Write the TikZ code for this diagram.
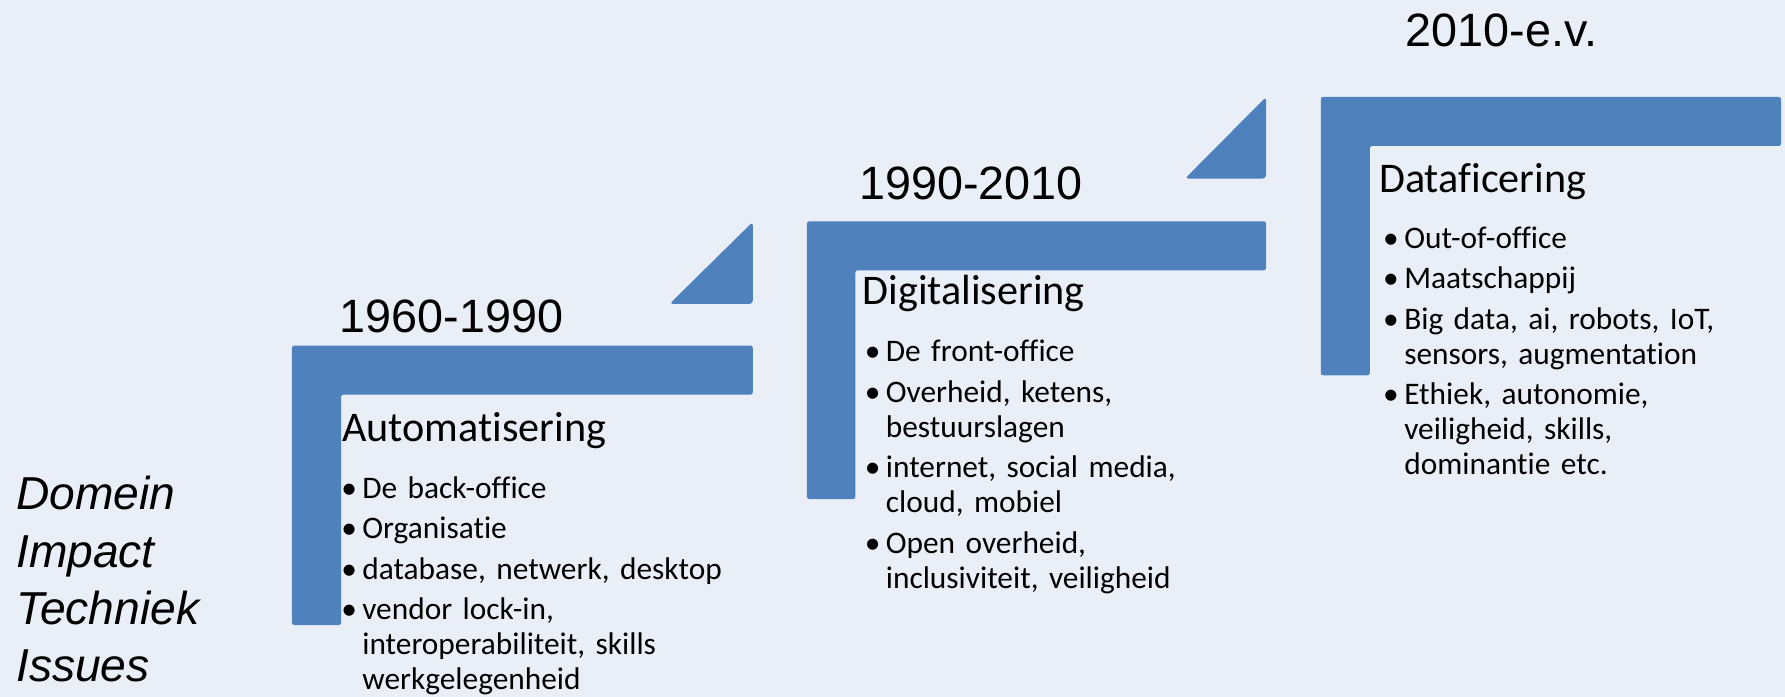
\documentclass[tikz,border=0pt]{standalone}
\usepackage{fontspec}
\setmainfont{Carlito}[Ligatures=NoCommon]
\newfontfamily\arialfont{Liberation Sans}
\definecolor{barblue}{HTML}{4F81BD}
\definecolor{slidebg}{HTML}{EAEFF7}
\newcommand{\bul}{\makebox[18.5pt][l]{\textbullet}}
\newcommand{\hang}{\hspace*{18.5pt}}

\begin{document}
\begin{tikzpicture}[x=1pt, y=-1pt,
        bar/.style={
            fill=barblue,
            rounded corners=2pt},
        wedge/.style={
            fill=barblue,
            rounded corners=3pt},
        year/.style={
            anchor=base west,
            inner sep=0pt,
            font=\arialfont\fontsize{41}{49}\selectfont},
        head/.style={
            anchor=base west,
            inner sep=0pt,
            font=\fontsize{37}{44}\selectfont},
        list/.style={
            anchor=base west,
            inner sep=0pt,
            text width=360pt,
            align=left,
            font=\fontsize{27.5}{30.7}\selectfont}
        ]

        \useasboundingbox (0,0) rectangle (1565,611);
        \fill[slidebg] (0,0) rectangle (1565,611);

        % steps
        \fill[bar] (256,303) -- (660,303) -- (660,346) -- (299,346) -- (299,548) -- (256,548) -- cycle;
        \fill[wedge] (587,266.5) -- (660,266.5) -- (660,194.5) -- cycle;
        \fill[bar] (707.5,194) -- (1110,194) -- (1110,237) -- (750,237) -- (750,437.5) -- (707.5,437.5) -- cycle;
        \fill[wedge] (1039,156.5) -- (1110,156.5) -- (1110,85) -- cycle;
        \fill[bar] (1158,85) -- (1561.5,85) -- (1561.5,128) -- (1201,128) -- (1201,329) -- (1158,329) -- cycle;

        % periods
        \node (year1) [year] at (297.5,291.7) {1960-1990};
        \node (year2) [year] at (753,174.8) {1990-2010};
        \node (year3) [year] at (1232.4,40.9) {2010-e.v.};

        \node (head1) [head] at (300,387.5) {Automatisering};
        \node (head2) [head] at (756,267.4) {Digitalisering};
        \node (head3) [head] at (1209,168.9) {Dataficering};

        \node (list1) [list] at (299,436.9) {\bul De back-office\\[4.8pt]
            \bul Organisatie\\[4.8pt]
            \bul database, netwerk, desktop\\[4.8pt]
            \bul vendor lock-in,\\ \hang interoperabiliteit, skills\\ \hang werkgelegenheid};
        \node (list2) [list] at (758,317) {\bul De front-office\\[4.8pt]
            \bul Overheid, ketens,\\ \hang bestuurslagen\\[4.8pt]
            \bul internet, social media,\\ \hang cloud, mobiel\\[4.8pt]
            \bul Open overheid,\\ \hang inclusiviteit, veiligheid};
        \node (list3) [list] at (1212.5,217.7) {\bul Out-of-office\\[4.8pt]
            \bul Maatschappij\\[4.8pt]
            \bul Big data, ai, robots, IoT,\\ \hang sensors, augmentation\\[4.8pt]
            \bul Ethiek, autonomie,\\ \hang veiligheid, skills,\\ \hang dominantie etc.};

        % legend
        \node (legend) [anchor=base west, inner sep=0pt, text width=250pt, align=left,
            font=\arialfont\itshape\fontsize{40.5}{50.2}\selectfont] at (14,447) {Domein\\ Impact\\ Techniek\\ Issues};

\end{tikzpicture}
\end{document}
